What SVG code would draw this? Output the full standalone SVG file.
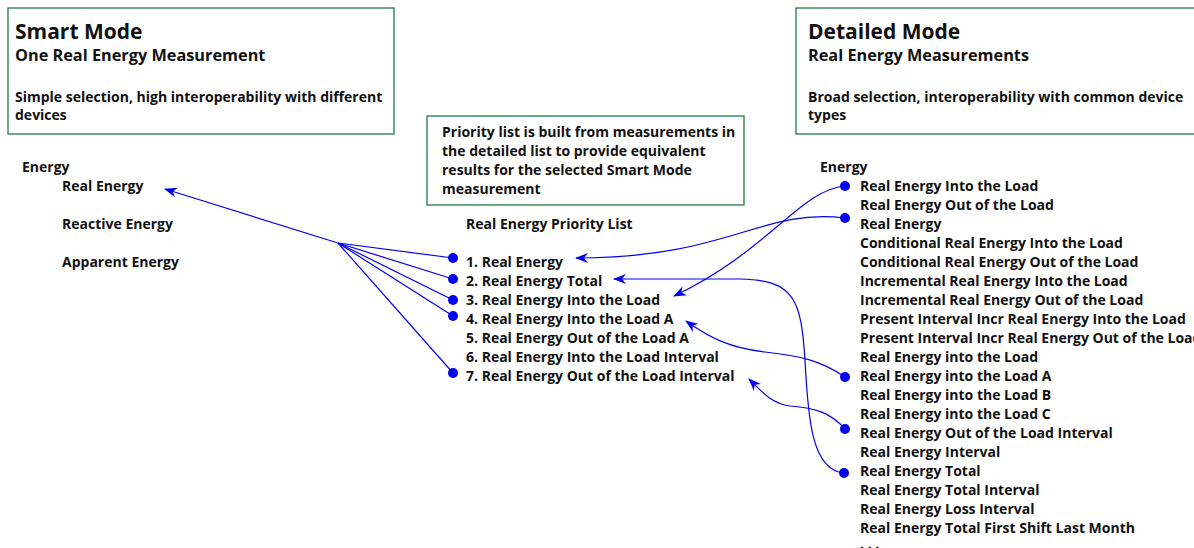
<svg xmlns="http://www.w3.org/2000/svg" width="1194" height="548" viewBox="0 0 1194 548">
<style>
text{font-family:"Open Sans","Noto Sans","Liberation Sans",sans-serif;font-weight:700;fill:#111;font-size:14px}
.t1{font-size:21px}
.t2{font-size:16.3px}
.box{fill:#fff;stroke:#1e7a46;stroke-width:1.3}
.c{fill:none;stroke:#0000f0;stroke-width:1.2}
.d{fill:#0000f0}
</style>
<defs>
<marker id="ah" markerWidth="14" markerHeight="10" refX="12" refY="5" orient="auto" markerUnits="userSpaceOnUse">
<path d="M13,5 L0,0 L4,5 L0,10 z" fill="#0000f0"/>
</marker>
</defs>
<rect width="1194" height="548" fill="#fff"/>
<g id="smart-box">
<rect class="box" x="8" y="8" width="386" height="126"/>
<text class="t1" x="15" y="39">Smart Mode</text>
<text class="t2" x="15" y="61">One Real Energy Measurement</text>
<text x="15" y="102">Simple selection, high interoperability with different</text>
<text x="15" y="120">devices</text>
</g>
<g id="detailed-box">
<rect class="box" x="796" y="8" width="420" height="126"/>
<text class="t1" x="808" y="39">Detailed Mode</text>
<text class="t2" x="808" y="61">Real Energy Measurements</text>
<text x="808" y="102">Broad selection, interoperability with common device</text>
<text x="808" y="120">types</text>
</g>
<g id="priority-note">
<rect class="box" x="427" y="116" width="317" height="89"/>
<text x="442" y="137">Priority list is built from measurements in</text>
<text x="442" y="156">the detailed list to provide equivalent</text>
<text x="442" y="175">results for the selected Smart Mode</text>
<text x="442" y="194">measurement</text>
</g>
<g id="smart-list">
<text x="22" y="172">Energy</text>
<text x="62" y="191">Real Energy</text>
<text x="62" y="229">Reactive Energy</text>
<text x="62" y="267">Apparent Energy</text>
</g>
<g id="priority-list">
<text x="466" y="229">Real Energy Priority List</text>
<text x="466" y="267">1. Real Energy</text>
<text x="466" y="286">2. Real Energy Total</text>
<text x="466" y="305">3. Real Energy Into the Load</text>
<text x="466" y="324">4. Real Energy Into the Load A</text>
<text x="466" y="343">5. Real Energy Out of the Load A</text>
<text x="466" y="362">6. Real Energy Into the Load Interval</text>
<text x="466" y="381">7. Real Energy Out of the Load Interval</text>
</g>
<g id="detailed-list">
<text x="820" y="172">Energy</text>
<text x="860" y="191">Real Energy Into the Load</text>
<text x="860" y="210">Real Energy Out of the Load</text>
<text x="860" y="229">Real Energy</text>
<text x="860" y="248">Conditional Real Energy Into the Load</text>
<text x="860" y="267">Conditional Real Energy Out of the Load</text>
<text x="860" y="286">Incremental Real Energy Into the Load</text>
<text x="860" y="305">Incremental Real Energy Out of the Load</text>
<text x="860" y="324">Present Interval Incr Real Energy Into the Load</text>
<text x="860" y="343">Present Interval Incr Real Energy Out of the Load</text>
<text x="860" y="362">Real Energy into the Load</text>
<text x="860" y="381">Real Energy into the Load A</text>
<text x="860" y="400">Real Energy into the Load B</text>
<text x="860" y="419">Real Energy into the Load C</text>
<text x="860" y="438">Real Energy Out of the Load Interval</text>
<text x="860" y="457">Real Energy Interval</text>
<text x="860" y="476">Real Energy Total</text>
<text x="860" y="495">Real Energy Total Interval</text>
<text x="860" y="514">Real Energy Loss Interval</text>
<text x="860" y="533">Real Energy Total First Shift Last Month</text>
<text x="860" y="549">. . .</text>
</g>
<g id="connectors">
<path class="c" d="M338,243 L165,189" marker-end="url(#ah)"/>
<path class="c" d="M453,258 L338,243"/>
<path class="c" d="M453,279 L338,243"/>
<path class="c" d="M453,300 L338,243"/>
<path class="c" d="M453,316 L338,243"/>
<path class="c" d="M453,373 L338,243"/>
<circle class="d" cx="453" cy="258" r="5"/>
<circle class="d" cx="453" cy="279" r="5"/>
<circle class="d" cx="453" cy="300" r="5"/>
<circle class="d" cx="453" cy="316" r="5"/>
<circle class="d" cx="453" cy="373" r="5"/>
<path class="c" d="M845,186 C800,190 770,250 674,296" marker-end="url(#ah)"/>
<path class="c" d="M845,218 C760,208 730,258 576,258" marker-end="url(#ah)"/>
<path class="c" d="M844,473 C812,470 808,420 805,360 C801,300 795,280 740,279 L614,279" marker-end="url(#ah)"/>
<path class="c" d="M845,377 C820,360 800,356 765,352 C730,348 710,338 686,321" marker-end="url(#ah)"/>
<path class="c" d="M845,429 C830,412 815,408 790,406 C772,404 762,392 749,379" marker-end="url(#ah)"/>
<circle class="d" cx="845" cy="186" r="5"/>
<circle class="d" cx="845" cy="218" r="5"/>
<circle class="d" cx="845" cy="377" r="5"/>
<circle class="d" cx="845" cy="429" r="5"/>
<circle class="d" cx="844" cy="473" r="5"/>
</g>
</svg>
